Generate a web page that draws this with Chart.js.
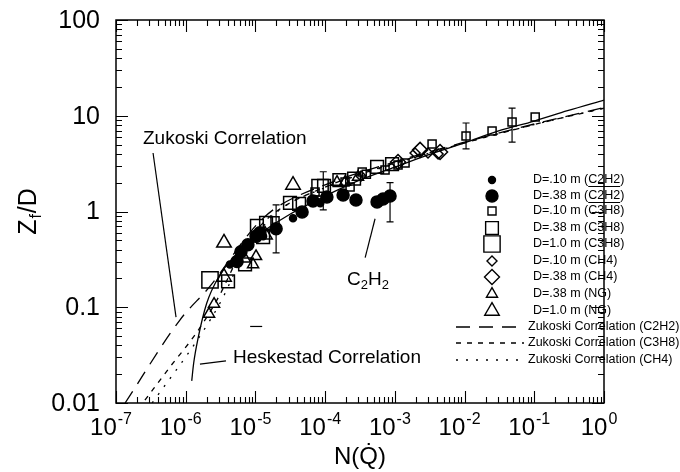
<!DOCTYPE html>
<html>
<head>
<meta charset="utf-8">
<script src="https://cdn.jsdelivr.net/npm/chart.js@4.4.1/dist/chart.umd.min.js"></script>
<style>
  html, body { margin: 0; padding: 0; background: #fff; }
  #grafico { display: block; }
</style>
</head>
<body>
<canvas id="grafico" width="680" height="472"></canvas>
<script>
// Longitud de llama Z_f/D frente a N(Q): medidas y correlaciones

// Medidas [N, Zf/D] por combustible y diámetro
var c2h2D10 = [[4.3e-6, 0.28], [1.29e-5, 0.55], [3.46e-5, 0.85], [8.5e-5, 1.22]];
var c2h2D38 = [[5.45e-6, 0.30], [6.2e-6, 0.38], [7.8e-6, 0.45], [1.02e-5, 0.55], [1.16e-5, 0.60],
    [1.98e-5, 0.66], [4.67e-5, 0.99], [6.7e-5, 1.29], [1.06e-4, 1.42], [1.81e-4, 1.49],
    [2.77e-4, 1.32], [5.56e-4, 1.26], [6.78e-4, 1.35], [8.53e-4, 1.45]];
var c3h8D10 = [[1.91e-5, 0.80], [7.16e-5, 1.60], [1.93e-4, 2.03], [2.28e-4, 1.80], [3.4e-4, 2.59],
    [3.9e-4, 2.45], [7.23e-4, 2.71], [1.11e-3, 3.06], [1.40e-3, 3.21], [3.42e-3, 5.07],
    [1.05e-2, 6.15], [2.48e-2, 6.93], [4.8e-2, 8.6], [0.103, 9.7]];
var c3h8D38 = [[4.05e-6, 0.186], [7.1e-6, 0.28], [1.05e-5, 0.71], [1.29e-5, 0.54], [1.42e-5, 0.76],
    [3.13e-5, 1.23], [4.23e-5, 1.20], [9.64e-5, 1.85], [1.6e-4, 2.13], [2.6e-4, 2.2],
    [5.56e-4, 2.92], [9.12e-4, 3.13]];
var c3h8D100 = [[2.23e-6, 0.193], [8.45e-5, 1.77]];
var ch4D10 = [[3.27e-4, 2.35], [1.95e-3, 4.08], [2.99e-3, 4.08], [4.17e-3, 3.99]];
var ch4D38 = [[1.11e-3, 3.29], [2.3e-3, 4.4], [4.45e-3, 4.18]];
var ngD38 = [[2.16e-6, 0.085], [2.55e-6, 0.108], [7.1e-6, 0.32], [9.25e-6, 0.28], [1.02e-5, 0.34],
    [1.48e-4, 2.03], [1.93e-4, 2.03], [2.96e-4, 2.29]];
var ngD100 = [[3.54e-6, 0.207], [3.54e-6, 0.47], [1.37e-5, 0.57], [3.46e-5, 1.89]];

// Barras de error [N, mínimo, máximo]
var barrasError = [[1.98e-5, 0.37, 1.17], [9.4e-5, 1.04, 2.6], [8.53e-4, 0.78, 2.0],
    [1.05e-2, 4.5, 8.4], [4.8e-2, 5.3, 12.0]];

// Correlaciones [N, Zf/D]
var heskestad = [[1.22e-6, 0.017], [1.3e-6, 0.026], [1.5e-6, 0.047], [2e-6, 0.11], [3e-6, 0.21],
    [5e-6, 0.34], [1e-5, 0.54], [3e-5, 0.92], [1e-4, 1.45], [3e-4, 2.1], [1e-3, 2.9],
    [3e-3, 3.9], [1e-2, 5.2], [3e-2, 6.9], [1e-1, 8.8], [3e-1, 11.3], [1, 14.6]];
var zukoskiC2H2 = [[1.35e-7, 0.01], [8.3e-7, 0.074], [2.3e-6, 0.17], [7.1e-6, 0.52], [1.1e-5, 0.76],
    [2e-5, 1.1], [1e-4, 1.9], [1e-3, 3.3], [1e-2, 5.3], [1e-1, 8.2], [1, 12.2]];
var zukoskiC3H8 = [[2.6e-7, 0.0107], [6e-7, 0.024], [1.45e-6, 0.055], [3e-6, 0.13], [6e-6, 0.36],
    [1e-5, 0.62], [2e-5, 1.0], [1e-4, 1.8], [1e-3, 3.2], [1e-2, 5.2], [1e-1, 8.1], [1, 12]];
var zukoskiCH4 = [[3.3e-7, 0.01], [1.6e-6, 0.05], [3.3e-6, 0.12], [6.5e-6, 0.34], [1.1e-5, 0.6],
    [2e-5, 0.98], [1e-4, 1.78], [1e-3, 3.15], [1e-2, 5.2], [1e-1, 8.1], [1, 12]];

// Etiquetas de los ejes
var potenciasX = [-7, -6, -5, -4, -3, -2, -1, 0];
var etiquetasY = ['0.01', '0.1', '1', '10', '100'];
var valoresY = [0.01, 0.1, 1, 10, 100];

(function () {
    'use strict';

    var FUENTE = '"Liberation Sans", Arial, Helvetica, sans-serif';
    var lienzo = document.getElementById('grafico');

    function serie(etiqueta, datos, estilo, radio, relleno) {
        return {
            label: etiqueta,
            data: datos,
            pointStyle: estilo,
            pointRadius: radio,
            pointBorderWidth: 1.5,
            pointBorderColor: '#000',
            pointBackgroundColor: relleno ? '#000' : 'rgba(0,0,0,0)',
            showLine: false
        };
    }

    function curva(etiqueta, datos, trazo, ancho) {
        return {
            label: etiqueta,
            data: datos,
            showLine: true,
            pointRadius: 0,
            borderColor: '#000',
            borderWidth: ancho,
            borderDash: trazo,
            cubicInterpolationMode: 'monotone',
            esCurva: true
        };
    }

    var series = [
        serie('D=.10 m (C2H2)', c2h2D10, 'circle', 3.5, true),
        serie('D=.38 m (C2H2)', c2h2D38, 'circle', 6, true),
        serie('D=.10 m (C3H8)', c3h8D10, 'rect', 5.7, false),
        serie('D=.38 m (C3H8)', c3h8D38, 'rect', 9, false),
        serie('D=1.0 m (C3H8)', c3h8D100, 'rect', 11.5, false),
        serie('D=.10 m (CH4)', ch4D10, 'rectRot', 5, false),
        serie('D=.38 m (CH4)', ch4D38, 'rectRot', 7.5, false),
        serie('D=.38 m (NG)', ngD38, 'triangle', 6.4, false),
        serie('D=1.0 m (NG)', ngD100, 'triangle', 8.4, false),
        curva('Zukoski Correlation (C2H2)', zukoskiC2H2, [14, 9], 1.3),
        curva('Zukoski Correlation (C3H8)', zukoskiC3H8, [5, 6], 1.3),
        curva('Zukoski Correlation (CH4)', zukoskiCH4, [2, 8], 1.3),
        curva('Heskestad Correlation', heskestad, [], 1.3)
    ];

    // Marco con marcas hacia dentro en los cuatro lados
    var marco = {
        id: 'marco',
        afterDatasetsDraw: function (chart) {
            var ctx = chart.ctx, a = chart.chartArea;
            var sx = chart.scales.x, sy = chart.scales.y;
            var p, m, v, px, largo;
            ctx.save();
            ctx.strokeStyle = '#000';
            ctx.lineWidth = 1.5;
            ctx.strokeRect(a.left, a.top, a.right - a.left, a.bottom - a.top);
            ctx.lineWidth = 1.1;
            ctx.beginPath();
            for (p = -7; p <= 0; p++) {
                for (m = 1; m <= 9; m++) {
                    v = m * Math.pow(10, p);
                    if (v > 1.0001) break;
                    px = Math.round(sx.getPixelForValue(v)) + 0.5;
                    largo = m === 1 ? 12 : 6;
                    ctx.moveTo(px, a.bottom); ctx.lineTo(px, a.bottom - largo);
                    ctx.moveTo(px, a.top); ctx.lineTo(px, a.top + largo);
                }
            }
            for (p = -2; p <= 2; p++) {
                for (m = 1; m <= 9; m++) {
                    v = m * Math.pow(10, p);
                    if (v > 100.001) break;
                    px = Math.round(sy.getPixelForValue(v)) + 0.5;
                    largo = m === 1 ? 12 : 6;
                    ctx.moveTo(a.left, px); ctx.lineTo(a.left + largo, px);
                    ctx.moveTo(a.right, px); ctx.lineTo(a.right - largo, px);
                }
            }
            ctx.stroke();

            // Etiquetas del eje X: 10 con exponente
            ctx.fillStyle = '#000';
            ctx.textBaseline = 'alphabetic';
            ctx.textAlign = 'left';
            potenciasX.forEach(function (pot) {
                var exp = String(pot);
                ctx.font = '24px ' + FUENTE;
                var wBase = ctx.measureText('10').width;
                ctx.font = '16px ' + FUENTE;
                var wExp = ctx.measureText(exp).width;
                var x0 = sx.getPixelForValue(Math.pow(10, pot)) - (wBase + wExp + 1) / 2 - 5;
                ctx.font = '24px ' + FUENTE;
                ctx.fillText('10', x0, 435);
                ctx.font = '16px ' + FUENTE;
                ctx.fillText(exp, x0 + wBase + 1, 424);
            });

            // Etiquetas del eje Y
            ctx.font = '25px ' + FUENTE;
            ctx.textAlign = 'right';
            ctx.textBaseline = 'middle';
            valoresY.forEach(function (val, i) {
                ctx.fillText(etiquetasY[i], 100, sy.getPixelForValue(val) + 1);
            });

            // Títulos de los ejes
            ctx.save();
            ctx.translate(36, sy.getPixelForValue(1));
            ctx.rotate(-Math.PI / 2);
            ctx.textAlign = 'left';
            ctx.textBaseline = 'alphabetic';
            ctx.font = '25px ' + FUENTE;
            var wZ = ctx.measureText('Z').width;
            ctx.font = '16px ' + FUENTE;
            var wF = ctx.measureText('f').width;
            ctx.font = '25px ' + FUENTE;
            var wD = ctx.measureText('/D').width;
            var xi = -(wZ + wF + wD + 2) / 2;
            ctx.fillText('Z', xi, 0);
            ctx.font = '16px ' + FUENTE;
            ctx.fillText('f', xi + wZ + 1, 5);
            ctx.font = '25px ' + FUENTE;
            ctx.fillText('/D', xi + wZ + wF + 2, 0);
            ctx.restore();

            ctx.font = '24px ' + FUENTE;
            ctx.textAlign = 'center';
            ctx.textBaseline = 'alphabetic';
            ctx.fillText('N(Q\u0307)', (a.left + a.right) / 2, 464);
            ctx.restore();
        }
    };

    // Barras de error verticales con remates
    var errores = {
        id: 'errores',
        afterDatasetsDraw: function (chart) {
            var ctx = chart.ctx, sx = chart.scales.x, sy = chart.scales.y;
            ctx.save();
            ctx.strokeStyle = '#000';
            ctx.lineWidth = 1.2;
            ctx.beginPath();
            barrasError.forEach(function (b) {
                var x = sx.getPixelForValue(b[0]);
                var y1 = sy.getPixelForValue(b[1]);
                var y2 = sy.getPixelForValue(b[2]);
                ctx.moveTo(x, y1); ctx.lineTo(x, y2);
                ctx.moveTo(x - 3.5, y1); ctx.lineTo(x + 3.5, y1);
                ctx.moveTo(x - 3.5, y2); ctx.lineTo(x + 3.5, y2);
            });
            ctx.stroke();
            ctx.restore();
        }
    };

    // Rótulos y flechas dentro del gráfico (posiciones en coordenadas de datos)
    var rotulos = {
        id: 'rotulos',
        afterDatasetsDraw: function (chart) {
            var ctx = chart.ctx, sx = chart.scales.x, sy = chart.scales.y;
            function P(n, z) { return [sx.getPixelForValue(n), sy.getPixelForValue(z)]; }
            function linea(a, b) {
                ctx.beginPath(); ctx.moveTo(a[0], a[1]); ctx.lineTo(b[0], b[1]); ctx.stroke();
            }
            ctx.save();
            ctx.strokeStyle = '#000';
            ctx.fillStyle = '#000';
            ctx.lineWidth = 1.2;
            ctx.font = '19px ' + FUENTE;
            ctx.textBaseline = 'middle';
            ctx.textAlign = 'left';

            var t = P(2.44e-7, 5.7);
            ctx.fillText('Zukoski Correlation', t[0], t[1]);
            linea(P(3.4e-7, 4.08), P(7.26e-7, 0.079));

            t = P(4.77e-6, 0.0295);
            ctx.fillText('Heskestad Correlation', t[0], t[1]);
            linea(P(3.78e-6, 0.0275), P(1.6e-6, 0.0255));

            // trazo suelto bajo la nube de puntos
            linea(P(8.4e-6, 0.063), P(1.25e-5, 0.063));

            // C2H2 con subíndices
            t = P(2.06e-4, 0.193);
            var x = t[0];
            ctx.fillText('C', x, t[1]); x += ctx.measureText('C').width;
            ctx.font = '13px ' + FUENTE;
            ctx.fillText('2', x, t[1] + 6); x += ctx.measureText('2').width;
            ctx.font = '19px ' + FUENTE;
            ctx.fillText('H', x, t[1]); x += ctx.measureText('H').width;
            ctx.font = '13px ' + FUENTE;
            ctx.fillText('2', x, t[1] + 6);
            linea(P(5.2e-4, 0.84), P(3.75e-4, 0.33));
            ctx.restore();
        }
    };

    function marcador(ctx, estilo, r, relleno, x, y) {
        ctx.beginPath();
        if (estilo === 'circle') {
            ctx.arc(x, y, r, 0, Math.PI * 2);
        } else if (estilo === 'rect') {
            var s = r * Math.SQRT1_2;
            ctx.rect(x - s, y - s, 2 * s, 2 * s);
        } else if (estilo === 'rectRot') {
            ctx.moveTo(x - r, y); ctx.lineTo(x, y - r); ctx.lineTo(x + r, y); ctx.lineTo(x, y + r);
            ctx.closePath();
        } else if (estilo === 'triangle') {
            var h = r * Math.sqrt(3) / 2;
            ctx.moveTo(x, y - r); ctx.lineTo(x + h, y + r / 2); ctx.lineTo(x - h, y + r / 2);
            ctx.closePath();
        }
        if (relleno) ctx.fill();
        ctx.stroke();
    }

    // Leyenda dibujada a partir de los propios conjuntos de datos
    var leyenda = {
        id: 'leyenda',
        afterDraw: function (chart) {
            var ctx = chart.ctx;
            var filas = [180, 196, 211, 228, 244, 261, 277, 294, 311, 327, 343, 360];
            ctx.save();
            ctx.strokeStyle = '#000';
            ctx.fillStyle = '#000';
            ctx.lineWidth = 1.4;
            ctx.textBaseline = 'middle';
            ctx.textAlign = 'left';
            ctx.font = '12.5px ' + FUENTE;
            chart.data.datasets.forEach(function (ds, i) {
                if (i >= filas.length || ds.label === 'Heskestad Correlation') return;
                var y = filas[i];
                if (ds.esCurva) {
                    ctx.setLineDash(ds.borderDash);
                    ctx.beginPath(); ctx.moveTo(456, y); ctx.lineTo(524, y); ctx.stroke();
                    ctx.setLineDash([]);
                    ctx.fillText(ds.label, 528, y);
                } else {
                    marcador(ctx, ds.pointStyle, ds.pointRadius, ds.pointBackgroundColor === '#000', 492, y);
                    ctx.fillText(ds.label, 533, y);
                    if (ds.label.indexOf('C2H2') >= 0) {
                        var x1 = 533 + ctx.measureText(ds.label.slice(0, ds.label.indexOf('C2H2'))).width;
                        var x2 = x1 + ctx.measureText('C2H2').width;
                        ctx.lineWidth = 1;
                        ctx.beginPath(); ctx.moveTo(x1, y + 6.5); ctx.lineTo(x2, y + 6.5); ctx.stroke();
                        ctx.lineWidth = 1.4;
                    }
                }
            });
            ctx.restore();
        }
    };

    new Chart(lienzo.getContext('2d'), {
        type: 'scatter',
        data: { datasets: series },
        options: {
            responsive: false,
            animation: false,
            layout: { padding: { top: 20, right: 76, left: 0, bottom: 0 } },
            plugins: {
                legend: { display: false },
                tooltip: { enabled: false }
            },
            scales: {
                x: {
                    type: 'logarithmic', min: 1e-7, max: 1,
                    ticks: { display: false },
                    grid: { display: false },
                    border: { display: false },
                    afterFit: function (s) { s.height = 69; }
                },
                y: {
                    type: 'logarithmic', min: 0.01, max: 100,
                    ticks: { display: false },
                    grid: { display: false },
                    border: { display: false },
                    afterFit: function (s) { s.width = 116; }
                }
            }
        },
        plugins: [marco, errores, rotulos, leyenda]
    });
})();
</script>
</body>
</html>
